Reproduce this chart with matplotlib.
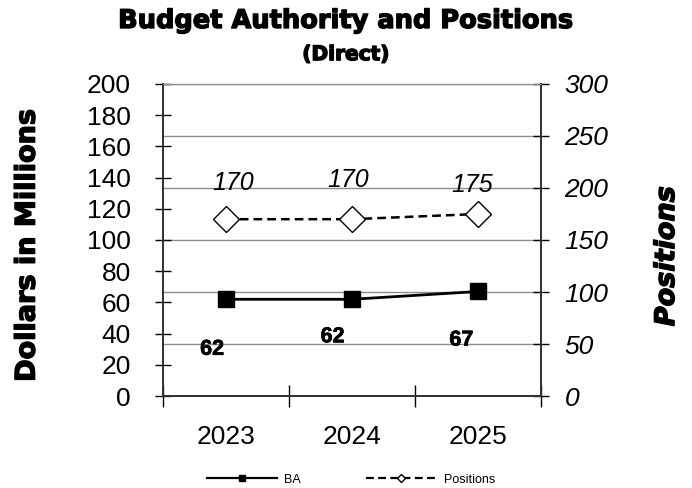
import numpy as np
import matplotlib.pyplot as plt
import matplotlib.patheffects as pe

plt.rcParams['font.family'] = ['Liberation Sans', 'DejaVu Sans']

# Data
years = ['2023', '2024', '2025']
ba = [62, 62, 67]                 # budget authority, $ millions
positions = [170, 170, 175]       # positions (FTE)

x = np.arange(len(years))
heavy = [pe.withStroke(linewidth=1.0, foreground='black')]

fig = plt.figure(figsize=(6.92, 4.88), dpi=100)
ax = fig.add_axes([0.2355, 0.1885, 0.5463, 0.6394])
ax2 = ax.twinx()

# positions on the right axis, with grid lines at its ticks
ax2.plot(x, positions, color='black', linestyle=(0, (3.5, 2)), linewidth=1.8,
         marker='D', markersize=13, markerfacecolor='white',
         markeredgecolor='black', markeredgewidth=1.0, zorder=3)
ax2.set_ylim(0, 300)
ax2.set_yticks(np.arange(0, 301, 50))
ax2.set_yticklabels([str(v) for v in range(0, 301, 50)], fontsize=19, style='italic')
ax2.yaxis.grid(True, color='#8c8c8c', linewidth=1.0)
ax2.set_axisbelow(True)
ax2.tick_params(axis='y', direction='inout', length=12, width=1, pad=11)

# BA on the left axis, drawn on top
ax.set_zorder(ax2.get_zorder() + 1)
ax.patch.set_visible(False)
ax.plot(x, ba, color='black', linewidth=2.0, marker='s', markersize=11,
        markerfacecolor='black', zorder=4)
ax.set_ylim(0, 200)
ax.set_yticks(np.arange(0, 201, 20))
ax.set_yticklabels([str(v) for v in range(0, 201, 20)], fontsize=19)
ax.tick_params(axis='y', direction='inout', length=12, width=1, pad=17)

# x axis: ticks at category boundaries, labels at centres
ax.set_xlim(-0.5, len(years) - 0.5)
ax.set_xticks(np.arange(-0.5, len(years), 1.0))
ax.set_xticklabels([])
ax.set_xticks(x, minor=True)
ax.set_xticklabels(years, minor=True, fontsize=19)
ax.tick_params(axis='x', which='major', direction='inout', length=16, width=1)
ax.tick_params(axis='x', which='minor', length=0, pad=21)

for a in (ax, ax2):
    for side in ('left', 'right', 'bottom'):
        a.spines[side].set_color('#333333')
        a.spines[side].set_linewidth(1.3)
    a.spines['top'].set_color('#8c8c8c')

# data labels
ba_offsets = [(-10, -36), (-14, -27), (-12, -35)]
for xi, v, off in zip(x, ba, ba_offsets):
    ax.annotate(str(v), (xi, v), textcoords='offset points', xytext=off,
                ha='center', va='center', fontsize=15.5, fontweight='bold',
                path_effects=[pe.withStroke(linewidth=0.5, foreground='black')])
pos_offsets = [(5, 26), (-3, 28), (-4, 21)]
for xi, v, off in zip(x, positions, pos_offsets):
    ax2.annotate(str(v), (xi, v), textcoords='offset points', xytext=off,
                 ha='center', va='center', fontsize=18, style='italic')

# titles and axis titles
fig.text(0.5, 0.957, 'Budget Authority and Positions', ha='center', va='center',
         fontsize=18.5, fontweight='bold', family='DejaVu Sans', path_effects=heavy)
fig.text(0.5, 0.888, '(Direct)', ha='center', va='center',
         fontsize=14.5, fontweight='bold', family='DejaVu Sans', path_effects=heavy)
fig.text(0.040, 0.497, 'Dollars in Millions', rotation=90, ha='center', va='center',
         fontsize=19.5, fontweight='bold', family='DejaVu Sans', path_effects=heavy)
fig.text(0.964, 0.475, 'Positions', rotation=90, ha='center', va='center',
         fontsize=19.5, fontweight='bold', style='italic', family='DejaVu Sans',
         path_effects=heavy)

# legend
h1 = ax.get_lines()[0]
h2 = ax2.get_lines()[0]
leg = fig.legend([h1, h2], ['BA', 'Positions'], loc='center',
                 bbox_to_anchor=(0.507, 0.017), ncol=2, frameon=False,
                 fontsize=9, handlelength=5.6, columnspacing=5.2,
                 markerscale=0.35, handletextpad=0.6)
for line in leg.get_lines():
    line.set_linewidth(1.6)

fig.savefig('out.png', dpi=100)
